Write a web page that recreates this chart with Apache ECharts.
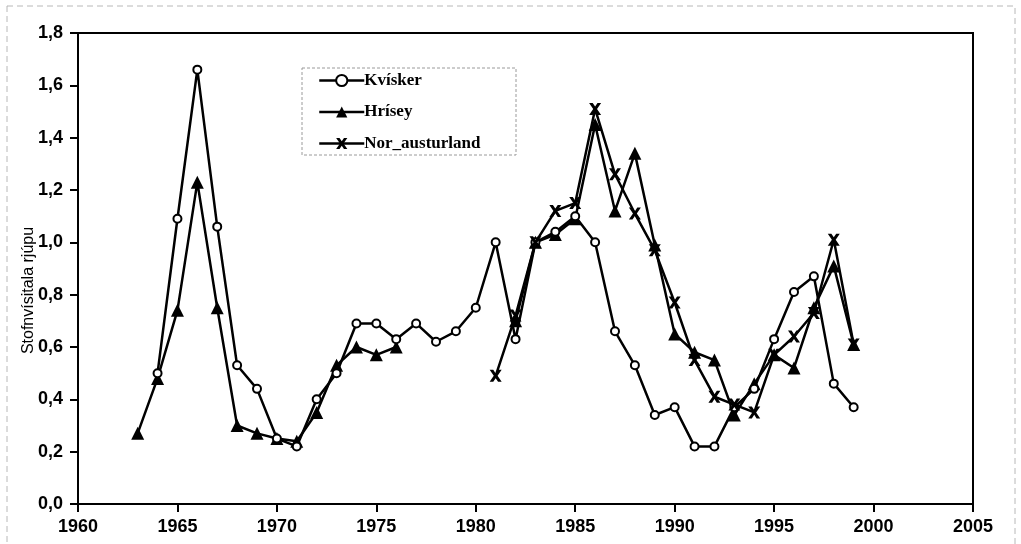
<!DOCTYPE html>
<html>
<head>
<meta charset="utf-8"/>
<title>Stofnvísitala rjúpu</title>
<script src="https://cdn.jsdelivr.net/npm/echarts@6/dist/echarts.min.js"></script>
<style>
  html, body { margin: 0; padding: 0; background: #fff; }
  #main { width: 1021px; height: 544px; }
</style>
</head>
<body>
<div id="main"></div>
<script type="text/javascript">
    // years 1963..1999
    var years = [1963, 1964, 1965, 1966, 1967, 1968, 1969, 1970, 1971, 1972,
        1973, 1974, 1975, 1976, 1977, 1978, 1979, 1980, 1981, 1982,
        1983, 1984, 1985, 1986, 1987, 1988, 1989, 1990, 1991, 1992,
        1993, 1994, 1995, 1996, 1997, 1998, 1999];

    var kvisker = [null, 0.50, 1.09, 1.66, 1.06, 0.53, 0.44, 0.25, 0.22, 0.40,
        0.50, 0.69, 0.69, 0.63, 0.69, 0.62, 0.66, 0.75, 1.00, 0.63,
        1.00, 1.04, 1.10, 1.00, 0.66, 0.53, 0.34, 0.37, 0.22, 0.22,
        0.37, 0.44, 0.63, 0.81, 0.87, 0.46, 0.37];

    var hrisey = [0.27, 0.48, 0.74, 1.23, 0.75, 0.30, 0.27, 0.25, 0.24, 0.35,
        0.53, 0.60, 0.57, 0.60, null, null, null, null, null, 0.70,
        1.00, 1.03, 1.09, 1.45, 1.12, 1.34, 0.99, 0.65, 0.58, 0.55,
        0.34, 0.46, 0.57, 0.52, 0.75, 0.91, 0.61];

    var norAusturland = [null, null, null, null, null, null, null, null, null, null,
        null, null, null, null, null, null, null, null, 0.49, 0.72,
        1.00, 1.12, 1.15, 1.51, 1.26, 1.11, 0.97, 0.77, 0.55, 0.41,
        0.38, 0.35, 0.57, 0.64, 0.73, 1.01, 0.61];

    var seriesNames = ['Kvísker', 'Hrísey', 'Nor_austurland'];

    function pairs(vals) {
        var out = [];
        for (var i = 0; i < years.length; i++) {
            out.push([years[i], vals[i]]);
        }
        return out;
    }

    var crossPath = 'path://M0,0 L3,0 L5,3 L7,0 L10,0 L6.6,5 L10,10 L7,10 L5,7 L3,10 L0,10 L3.4,5 Z';

    var myChart = echarts.init(document.getElementById('main'));

    var option = {
        animation: false,
        backgroundColor: '#fff',
        graphic: [{
            type: 'rect',
            shape: { x: 7, y: 6, width: 1008, height: 560 },
            style: { fill: 'none', stroke: '#b8b8b8', lineWidth: 1, lineDash: [6, 4] },
            silent: true
        }, {
            type: 'rect',
            shape: { x: 302, y: 68, width: 214, height: 87 },
            style: { fill: '#fff', stroke: '#9a9a9a', lineWidth: 1, lineDash: [3, 2] },
            z: 5,
            silent: true
        }],
        legend: {
            data: seriesNames,
            orient: 'vertical',
            left: 318,
            top: 72,
            itemWidth: 45,
            itemHeight: 14,
            itemGap: 14.5,
            padding: 0,
            z: 10,
            lineStyle: { width: 2.5 },
            textStyle: {
                fontFamily: 'Liberation Serif',
                fontWeight: 'bold',
                fontSize: 17,
                color: '#000',
                padding: [0, 0, 0, -5]
            }
        },
        grid: {
            left: 78,
            right: 48,
            top: 33,
            bottom: 40,
            show: true,
            borderColor: '#000',
            borderWidth: 2,
            backgroundColor: 'transparent'
        },
        xAxis: {
            type: 'value',
            min: 1960,
            max: 2005,
            interval: 5,
            splitLine: { show: false },
            axisLine: { onZero: false, lineStyle: { color: '#000', width: 2 } },
            axisTick: { show: true, inside: false, length: 8, lineStyle: { color: '#000', width: 2 } },
            axisLabel: {
                margin: 14,
                color: '#000',
                fontFamily: 'Liberation Sans',
                fontWeight: 'bold',
                fontSize: 18,
                formatter: function (v) {
                    return String(v);
                }
            }
        },
        yAxis: {
            type: 'value',
            min: 0,
            max: 1.8,
            interval: 0.2,
            name: 'Stofnvísitala rjúpu',
            nameLocation: 'middle',
            nameGap: 41,
            nameRotate: 90,
            nameMoveOverlap: false,
            nameTextStyle: {
                fontFamily: 'Liberation Sans',
                fontSize: 16,
                color: '#000',
                padding: [0, 44, 0, 0]
            },
            splitLine: { show: false },
            axisLine: { show: true, lineStyle: { color: '#000', width: 2 } },
            axisTick: { show: true, inside: false, length: 8, lineStyle: { color: '#000', width: 2 } },
            axisLabel: {
                margin: 15,
                color: '#000',
                fontFamily: 'Liberation Sans',
                fontWeight: 'bold',
                fontSize: 18,
                formatter: function (v) {
                    return v.toFixed(1).replace('.', ',');
                }
            }
        },
        series: [{
            name: seriesNames[0],
            type: 'line',
            data: pairs(kvisker),
            connectNulls: false,
            symbol: 'emptyCircle',
            symbolSize: 8,
            showAllSymbol: true,
            z: 3,
            lineStyle: { color: '#000', width: 2.5 },
            itemStyle: { color: '#000', borderColor: '#000', borderWidth: 2 }
        }, {
            name: seriesNames[1],
            type: 'line',
            data: pairs(hrisey),
            connectNulls: false,
            symbol: 'triangle',
            symbolSize: 13,
            showAllSymbol: true,
            z: 2,
            lineStyle: { color: '#000', width: 2.5 },
            itemStyle: { color: '#000', borderColor: '#000', borderWidth: 0 }
        }, {
            name: seriesNames[2],
            type: 'line',
            data: pairs(norAusturland),
            connectNulls: false,
            symbol: crossPath,
            symbolSize: 12,
            showAllSymbol: true,
            z: 4,
            lineStyle: { color: '#000', width: 2.5 },
            itemStyle: { color: '#000', borderColor: '#000', borderWidth: 0 }
        }]
    };

    myChart.setOption(option);
</script>
</body>
</html>
